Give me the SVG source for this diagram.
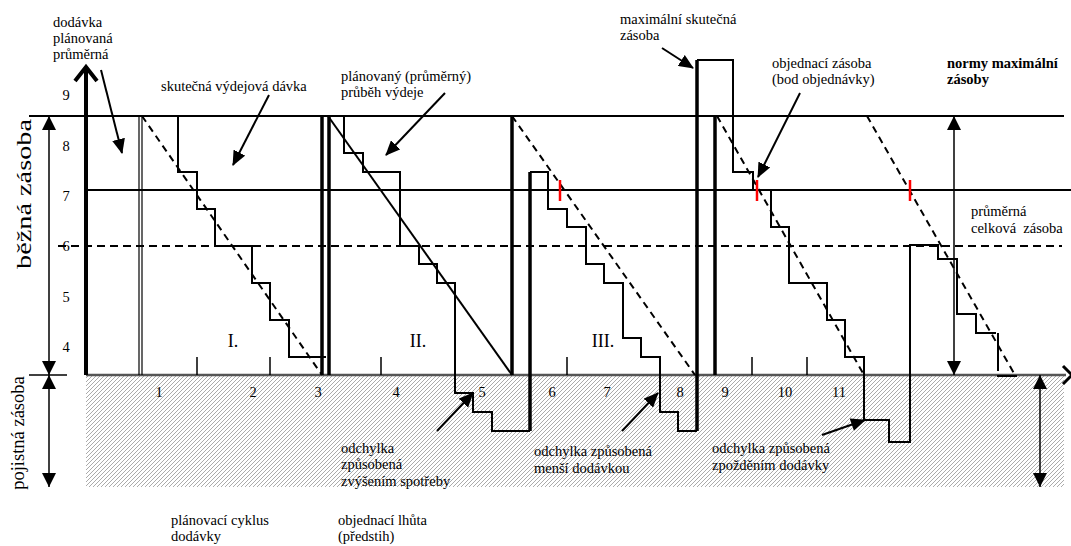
<svg xmlns="http://www.w3.org/2000/svg" width="1071" height="546" viewBox="0 0 1071 546">
<defs>
<pattern id="hatch" patternUnits="userSpaceOnUse" width="4" height="4">
<rect width="4" height="4" fill="#fff"/>
<path d="M-1,1 L1,-1 M0,4 L4,0 M3,5 L5,3" stroke="#ababab" stroke-width="1"/>
</pattern>
<marker id="ah" markerUnits="userSpaceOnUse" markerWidth="15" markerHeight="13" refX="14" refY="6.5" orient="auto"><path d="M0,0 L15,6.5 L0,13 z" fill="#000"/></marker>
<marker id="dh" markerUnits="userSpaceOnUse" markerWidth="14" markerHeight="14" refX="14" refY="7" orient="auto-start-reverse"><path d="M0,0 L14,7 L0,14 z" fill="#000"/></marker>
</defs>
<style>
text{font-family:"Liberation Serif","Times New Roman",serif;font-size:14.5px;fill:#000}
.b{font-weight:bold}
.rom{font-size:18px}
.side{font-size:18.5px}
.big{font-size:21px}
.ln{stroke:#000;stroke-width:2;fill:none}
.thk{stroke:#000;stroke-width:3.5;fill:none}
.thin{stroke:#000;stroke-width:1.2;fill:none}
.dash{stroke:#000;stroke-width:2;stroke-dasharray:7 5;fill:none}
.red{stroke:#ff0000;stroke-width:2.5}
.ptr{stroke:#000;stroke-width:2;fill:none;marker-end:url(#ah)}
.dim{stroke:#000;stroke-width:1.5;fill:none;marker-start:url(#dh);marker-end:url(#dh)}
</style>
<rect width="1071" height="546" fill="#fff"/>

<g id="safety-zone">
<rect x="86" y="375" width="978" height="112" fill="url(#hatch)"/>
<line x1="86" y1="375" x2="1066" y2="375" stroke="#555" stroke-width="2.5"/>
</g>

<g id="levels">
<line class="ln" x1="29" y1="116" x2="1064" y2="116"/>
<line class="ln" x1="86" y1="190" x2="1071" y2="190"/>
<line class="ln" x1="58" y1="246" x2="1062" y2="246" stroke-dasharray="8 5"/>
<polyline points="1063,366 1072,375 1063,384" fill="none" stroke="#000" stroke-width="3"/>
</g>

<g id="y-axis">
<line x1="86" y1="68" x2="86" y2="375" stroke="#000" stroke-width="4"/>
<polyline points="75,81 86,67 97,81" fill="none" stroke="#000" stroke-width="4"/>
<text x="66" y="100" text-anchor="middle">9</text>
<text x="66" y="151" text-anchor="middle">8</text>
<text x="66" y="201" text-anchor="middle">7</text>
<text x="66" y="251" text-anchor="middle">6</text>
<text x="66" y="302" text-anchor="middle">5</text>
<text x="66" y="352" text-anchor="middle">4</text>
</g>

<g id="x-labels">
<text x="159" y="397" text-anchor="middle">1</text>
<text x="253" y="397" text-anchor="middle">2</text>
<text x="318" y="397" text-anchor="middle">3</text>
<text x="396" y="397" text-anchor="middle">4</text>
<text x="482" y="397" text-anchor="middle">5</text>
<text x="552" y="397" text-anchor="middle">6</text>
<text x="607" y="397" text-anchor="middle">7</text>
<text x="680" y="397" text-anchor="middle">8</text>
<text x="725" y="397" text-anchor="middle">9</text>
<text x="785" y="397" text-anchor="middle">10</text>
<text x="839" y="397" text-anchor="middle">11</text>
<text class="rom" x="233" y="347" text-anchor="middle">I.</text>
<text class="rom" x="418" y="347" text-anchor="middle">II.</text>
<text class="rom" x="603" y="347" text-anchor="middle">III.</text>
</g>

<g id="connectors">
<line class="thin" x1="139" y1="116" x2="139" y2="375"/>
<line class="thin" x1="142" y1="116" x2="142" y2="375"/>
<line class="thk" x1="322" y1="116" x2="322" y2="375"/>
<line class="thk" x1="329" y1="116" x2="329" y2="375"/>
<line class="thk" x1="512" y1="116" x2="512" y2="375"/>
<line class="thk" x1="530" y1="172" x2="530" y2="431"/>
<line class="thk" x1="697" y1="60" x2="697" y2="431"/>
<line class="thk" x1="715" y1="116" x2="715" y2="375"/>
<line class="dash" x1="142" y1="116" x2="322" y2="375"/>
<line class="ln" x1="328" y1="116" x2="512" y2="375"/>
<line class="dash" x1="512" y1="116" x2="695" y2="375"/>
<line class="dash" x1="717" y1="116" x2="864" y2="375"/>
<line class="dash" x1="867" y1="116" x2="1015" y2="375"/>
<path class="ln" d="M178,116 V172 H197 V209 H215 V246 H252 V283 H270 V320 H289 V357 H326"/>
<path class="ln" d="M344,116 V153 H363 V172 H400 V246 H419 V264 H437 V283 H455 V393 H473 V412 H492 V431 H530"/>
<path class="ln" d="M530,172 H548 V209 H567 V227 H586 V264 H604 V283 H623 V338 H641 V357 H660 V412 H678 V431 H697"/>
<path class="ln" d="M697,60 H733 V172 H753 V190 H771 V227 H789 V283 H827 V320 H845 V357 H864 V420 H889 V442 H910 V245 H938 V259 H957 V314 H976 V333 H996"/>
<path class="ln" d="M998,333 V371 M997,376 H1017"/>
<path d="M197,357 V375 M270,357 V375 M381,357 V375 M567,357 V375 M752,357 V375 M807,357 V375" stroke="#000" stroke-width="1.5"/>
<line class="red" x1="560" y1="180" x2="560" y2="201"/>
<line class="red" x1="757" y1="180" x2="757" y2="201"/>
<line class="red" x1="910" y1="180" x2="910" y2="201"/>
<line class="dim" x1="49" y1="116" x2="49" y2="375"/>
<line class="dim" x1="49" y1="375" x2="49" y2="487"/>
<line x1="29" y1="375" x2="67" y2="375" stroke="#000" stroke-width="1.5"/>
<line class="dim" x1="954" y1="116" x2="954" y2="375"/>
<line class="dim" x1="1040" y1="375" x2="1040" y2="487"/>
<line class="ptr" x1="101" y1="70" x2="122" y2="153"/>
<line class="ptr" x1="269" y1="95" x2="233" y2="165"/>
<line class="ptr" x1="445" y1="93" x2="386" y2="155"/>
<line class="ptr" x1="662" y1="48" x2="693" y2="68"/>
<line class="ptr" x1="800" y1="93" x2="758" y2="177"/>
<line class="ptr" x1="437" y1="431" x2="473" y2="393"/>
<line class="ptr" x1="622" y1="431" x2="658" y2="393"/>
<line class="ptr" x1="822" y1="435" x2="865" y2="420"/>
</g>

<g id="label-current-stock"><text class="big" transform="translate(31,194) rotate(-90)" text-anchor="middle" textLength="150" lengthAdjust="spacingAndGlyphs">běžná zásoba</text></g>
<g id="label-safety-stock"><text class="side" transform="translate(24,433) rotate(-90)" text-anchor="middle">pojistná zásoba</text></g>
<g id="label-delivery"><text x="53" y="27">dodávka</text><text x="53" y="43">plánovaná</text><text x="53" y="59">průměrná</text></g>
<g id="label-actual-issue"><text x="161" y="91">skutečná výdejová dávka</text></g>
<g id="label-planned"><text x="341" y="81">plánovaný (průměrný)</text><text x="341" y="97">průběh výdeje</text></g>
<g id="label-max"><text x="620" y="24">maximální skutečná</text><text x="620" y="40">zásoba</text></g>
<g id="label-order-stock"><text x="772" y="68">objednací zásoba</text><text x="772" y="84">(bod objednávky)</text></g>
<g id="label-norms"><text class="b" x="947" y="68">normy maximální</text><text class="b" x="947" y="84">zásoby</text></g>
<g id="label-average"><text x="971" y="216">průměrná</text><text x="971" y="233" xml:space="preserve">celková  zásoba</text></g>
<g id="label-dev1"><text x="341" y="453">odchylka</text><text x="341" y="469">způsobená</text><text x="341" y="486">zvýšením spotřeby</text></g>
<g id="label-dev2"><text x="534" y="456">odchylka způsobená</text><text x="534" y="473">menší dodávkou</text></g>
<g id="label-dev3"><text x="712" y="453">odchylka způsobená</text><text x="712" y="470">zpožděním dodávky</text></g>
<g id="label-cycle"><text x="171" y="525">plánovací cyklus</text><text x="171" y="541">dodávky</text></g>
<g id="label-lead"><text x="338" y="525">objednací lhůta</text><text x="338" y="541">(předstih)</text></g>
</svg>
